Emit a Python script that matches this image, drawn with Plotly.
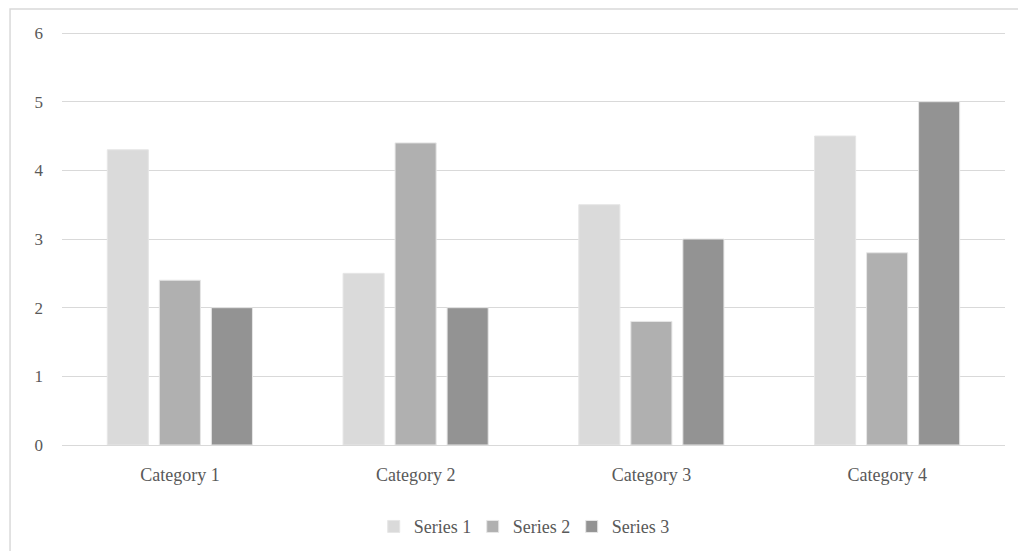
import plotly.graph_objects as go

categories = ["Category 1", "Category 2", "Category 3", "Category 4"]
series_names = ["Series 1", "Series 2", "Series 3"]
series1 = [4.3, 2.5, 3.5, 4.5]
series2 = [2.4, 4.4, 1.8, 2.8]
series3 = [2.0, 2.0, 3.0, 5.0]
colors = ["#dadada", "#b0b0b0", "#939393"]
y_ticks = [0, 1, 2, 3, 4, 5, 6]

fig = go.Figure()
for name, vals, col in zip(series_names, [series1, series2, series3], colors):
    fig.add_trace(go.Bar(x=categories, y=vals, name=name,
                         marker=dict(color=col, line=dict(color="#e6e6e6", width=1))))

font_family = "Liberation Serif, Times New Roman, serif"
fig.update_layout(
    width=1018, height=551,
    margin=dict(l=62, r=13, t=32, b=106, autoexpand=False),
    paper_bgcolor="white", plot_bgcolor="white",
    barmode="group", bargap=0.338, bargroupgap=0.21,
    font=dict(family=font_family, size=18, color="#595959"),
    showlegend=True,
    legend=dict(orientation="h", xref="container", yref="container",
                x=0.513, xanchor="center", y=0.044, yanchor="middle",
                font=dict(family=font_family, size=18, color="#595959"),
                itemwidth=30, entrywidth=54, entrywidthmode="pixels", traceorder="normal"),
    shapes=[dict(type="rect", xref="paper", yref="paper",
                 x0=-0.0551, x1=1.2, y0=-0.6, y1=1.0557,
                 line=dict(color="#d9d9d9", width=1.5), fillcolor="rgba(0,0,0,0)", layer="below")],
)
fig.update_yaxes(range=[0, 6.015], tickvals=y_ticks, showgrid=True, gridcolor="#d9d9d9", gridwidth=1,
                 zeroline=True, zerolinecolor="#d9d9d9", zerolinewidth=1, showline=False,
                 ticks="", ticklabelstandoff=18, tickfont=dict(size=17), automargin=False)
fig.update_xaxes(showgrid=False, showline=False, ticks="", ticklabelstandoff=17,
                 tickfont=dict(size=18), automargin=False)

fig.write_html("out.html")
